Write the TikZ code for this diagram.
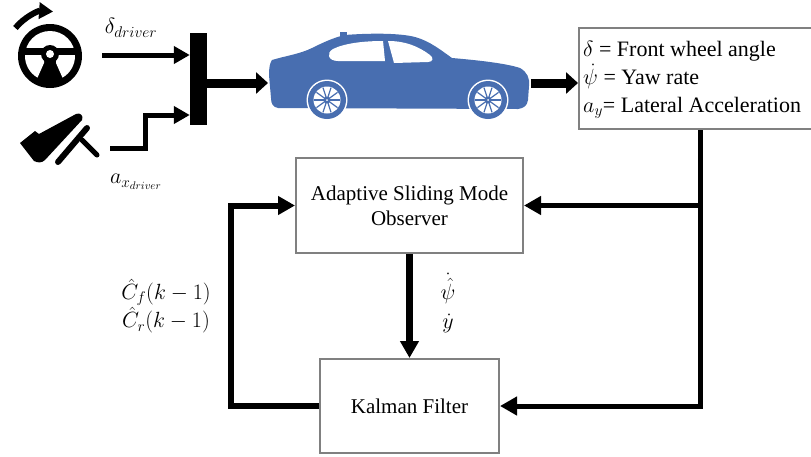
\RequirePackage{fix-cm}
\documentclass[tikz,border=0pt]{standalone}
\usepackage{fontspec}
\setmainfont{Liberation Serif}
\usetikzlibrary{arrows.meta}
\definecolor{carblue}{RGB}{72,110,176}
\definecolor{boxgray}{RGB}{128,128,128}
\begin{document}
\begin{tikzpicture}[x=1pt,y=-1pt,
  blk/.style={draw=boxgray,line width=2pt,fill=white,font=\rmfamily\fontsize{21}{25}\selectfont,align=center,inner sep=0pt},
  arr/.style={-{Triangle[length=17pt,width=18pt]}},
  arrs/.style={-{Triangle[length=16pt,width=17pt]}},
  cararr/.style={line width=9pt,-{Triangle[length=12pt,width=21pt]}},
  lbl/.style={font=\fontsize{22}{26}\selectfont, inner sep=0pt}]
\useasboundingbox (0,0) rectangle (811,456);

% ---------- steering wheel ----------
\begin{scope}[shift={(50,56)}, y=1pt]
  \fill[black] (0,0) circle (32);
  \begin{scope}
    \clip (-30,9) rectangle (30,30);
    \fill[white] (0,0) circle (25);
  \end{scope}
  \fill[white] (178:25) arc[start angle=178,end angle=240,radius=25] -- (-6,-7) -- (-6,1) -- cycle;
  \fill[white] (2:25) arc[start angle=2,end angle=-60,radius=25] -- (6,-7) -- (6,1) -- cycle;
  \fill[black] (0,2) circle (9);
  \fill[white] (0,2) circle (4);
  \draw[line width=6pt, -{Triangle[length=14pt,width=16pt]}] (141:44.5) arc[start angle=141, end angle=86, radius=44.5];
\end{scope}

% ---------- pedal ----------
\fill[black] (20,143) -- (35,131) -- (39,134) -- (76,114) .. controls (80,112) and (84,116) .. (82,120) -- (45,160) .. controls (42,163) and (38,163) .. (34,161) -- cycle;
\draw[line width=5pt, line cap=round] (82,140) -- (97,155);
\draw[line width=6pt, line cap=round] (58,162) -- (87,128);

% ---------- bar ----------
\node[fill=black, minimum width=17pt, minimum height=92pt, inner sep=0pt] (bar) at (198.5,79) {};

% ---------- car ----------
\fill[carblue] (272,60) .. controls (285,56) and (300,54) .. (312,48)
  .. controls (322,43) and (335,37) .. (345,35)
  .. controls (370,33) and (400,33) .. (415,37)
  .. controls (430,41) and (442,51) .. (452,58)
  .. controls (475,60) and (505,63) .. (520,68)
  .. controls (527,72) and (530,78) .. (529,86)
  -- (528,100) .. controls (527,106) and (524,108) .. (518,109)
  -- (278,108) .. controls (273,107) and (271,104) .. (271,98)
  -- (269,75) .. controls (269,67) and (270,63) .. (272,60) -- cycle;
\fill[carblue] (340,37) rectangle (347,32);
\fill[white] (383,41) -- (385,61) -- (338,61) .. controls (328,61) and (326,53) .. (333,49) .. controls (345,43) and (365,41) .. (383,41) -- cycle;
\fill[white] (388,41) .. controls (405,41) and (418,46) .. (430,55) .. controls (434,58) and (433,62) .. (428,62) -- (394,63) -- cycle;
\foreach \cx in {327,488}{
  \fill[white] (\cx,100) circle (20.5);
  \fill[carblue] (\cx,100) circle (19);
  \fill[white] (\cx,100) circle (13.5);
  \foreach \a in {0,36,...,324}{
    \draw[carblue, line width=1.2pt] (\cx,100) -- ++(\a:13);
  }
  \fill[carblue] (\cx,100) circle (3.5);
  \fill[white] (\cx,100) circle (1);
}
\coordinate (carL) at (268,83);
\coordinate (carR) at (531,83);

% ---------- blocks ----------
\node[blk, minimum width=242pt, minimum height=101pt] (info) at (700,78.5) {};
\node[anchor=west, align=left, font=\rmfamily\fontsize{22}{28}\selectfont, inner sep=0pt] (infotxt) at (583,80)
  {$\delta$ = Front wheel angle\\ $\dot{\psi}$ = Yaw rate\\ $a_y$= Lateral Acceleration};
\node[blk, minimum width=227pt, minimum height=95pt] (asmo) at (409.5,205.5) {Adaptive Sliding Mode\\Observer};
\node[blk, minimum width=179pt, minimum height=94pt] (kf) at (409.5,406) {Kalman Filter};

% ---------- labels ----------
\node[lbl] (ldelta) at (131,28) {$\delta_{driver}$};
\node[lbl] (lax) at (136,182) {$a_{x_{driver}}$};
\node[lbl, align=center, font=\fontsize{22}{27}\selectfont] (lc) at (166,306) {$\hat{C}_f(k-1)$\\$\hat{C}_r(k-1)$};
\node[lbl, align=center, font=\fontsize{22}{29}\selectfont] (lpy) at (448,303) {$\dot{\hat{\psi}}$\\$\dot{y}$};

% ---------- connectors ----------
\coordinate (s1) at (102,55);
\draw[line width=5pt, arrs] (s1) -- (bar.west |- s1);
\coordinate (p1) at (110,148);
\coordinate (p2) at (145,115);
\draw[line width=5pt, arrs] (p1) -| (p2) -- (bar.west |- p2);
\draw[cararr] (bar.east |- carL) -- (carL);
\draw[cararr] (carR) -- (info.west |- carR);

\coordinate (j1) at (info.south |- asmo.east);
\coordinate (j2) at (info.south |- kf.east);
\draw[line width=5pt, arr] (info.south) -- (j2) -- (kf.east);
\draw[line width=5pt, arr] (j1) -- (asmo.east);
\draw[line width=6.5pt, arr] (asmo.south) -- (kf.north);
\draw[line width=6pt, arr] (kf.west) -- ++(-88,0) |- (asmo.west);
\end{tikzpicture}
\end{document}
